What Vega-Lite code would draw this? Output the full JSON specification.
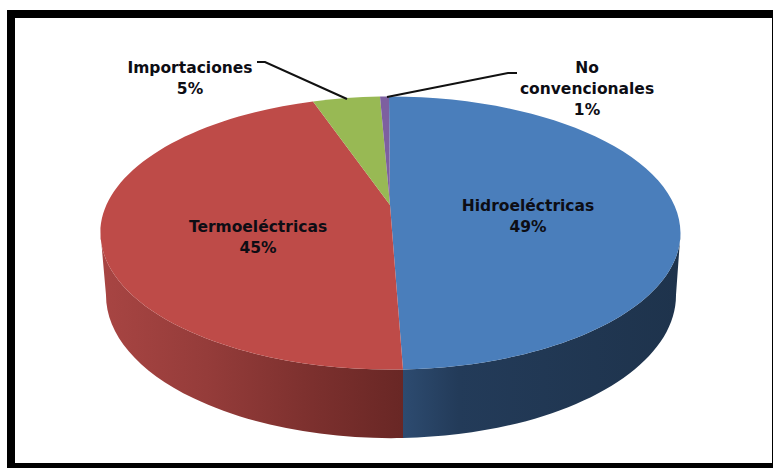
{
  "$schema": "https://vega.github.io/schema/vega-lite/v6.json",
  "width": 773,
  "height": 468,
  "padding": 0,
  "autosize": {"type": "none"},
  "background": "white",
  "config": {"view": {"stroke": null}},
  "data": {
    "values": [
      {"fuente": "Hidroeléctricas", "titulo": "Hidroeléctricas", "porcentaje": 49},
      {"fuente": "Termoeléctricas", "titulo": "Termoeléctricas", "porcentaje": 45},
      {"fuente": "Importaciones", "titulo": "Importaciones", "porcentaje": 5},
      {"fuente": "No convencionales", "titulo": "No\nconvencionales", "porcentaje": 1}
    ]
  },
  "layer": [
    {
      "transform": [{"filter": "datum.porcentaje === 45"}],
      "mark": {
        "type": "point",
        "filled": true,
        "opacity": 1,
        "size": 4,
        "strokeWidth": 0,
        "shape": "M-286,-1 A290,136.5 0 0 0 16.5,135.4 L16.5,204 A285,143 0 0 1 -280.5,61 Z",
        "fill": {
          "gradient": "linear", "x1": 0, "y1": 0, "x2": 1, "y2": 0,
          "stops": [
            {"offset": 0, "color": "#a84543"},
            {"offset": 0.35, "color": "#953c3a"},
            {"offset": 0.7, "color": "#7c302e"},
            {"offset": 1, "color": "#692725"}
          ]
        }
      }
    },
    {
      "transform": [{"filter": "datum.porcentaje === 49"}],
      "mark": {
        "type": "point",
        "filled": true,
        "opacity": 1,
        "size": 4,
        "strokeWidth": 0,
        "shape": "M16.5,135.4 A290,136.5 0 0 0 294,-1 L289.5,61 A285,143 0 0 1 16.5,204 Z",
        "fill": {
          "gradient": "linear", "x1": 0, "y1": 0, "x2": 1, "y2": 0,
          "stops": [
            {"offset": 0, "color": "#2d4b70"},
            {"offset": 0.2, "color": "#233b59"},
            {"offset": 1, "color": "#1e334c"}
          ]
        }
      }
    },
    {
      "mark": {"type": "point", "filled": true, "opacity": 1, "size": 4, "strokeWidth": 0},
      "encoding": {
        "shape": {
          "field": "fuente",
          "type": "nominal",
          "legend": null,
          "scale": {
            "domain": ["Hidroeléctricas", "Termoeléctricas", "Importaciones", "No convencionales"],
            "range": [
              "M3.5,-29 L2.5,-137.5 A290,136.5 0 0 1 294,-1 A290,136.5 0 0 1 16.5,135.4 Z",
              "M3.5,-29 L16.5,135.4 A290,136.5 0 0 1 -286,-1 A290,136.5 0 0 1 -73.5,-132.5 Z",
              "M3.5,-29 L-73.5,-132.5 A290,136.5 0 0 1 -6.5,-137.4 Z",
              "M3.5,-29 L-6.5,-137.4 A290,136.5 0 0 1 2.5,-137.5 Z"
            ]
          }
        },
        "color": {
          "field": "fuente",
          "type": "nominal",
          "legend": null,
          "scale": {
            "domain": ["Hidroeléctricas", "Termoeléctricas", "Importaciones", "No convencionales"],
            "range": ["#4a7ebb", "#be4b48", "#98b954", "#7d60a0"]
          }
        }
      }
    },
    {
      "transform": [{"filter": "datum.porcentaje === 5"}],
      "mark": {
        "type": "point",
        "filled": false,
        "opacity": 1,
        "size": 4,
        "stroke": "#111111",
        "strokeWidth": 2,
        "shape": "M-129.5,-172 L-121.5,-172 L-39.5,-135"
      }
    },
    {
      "transform": [{"filter": "datum.porcentaje === 1"}],
      "mark": {
        "type": "point",
        "filled": false,
        "opacity": 1,
        "size": 4,
        "stroke": "#111111",
        "strokeWidth": 2,
        "shape": "M130.5,-161 L121.5,-161 L0.5,-137"
      }
    },
    {
      "transform": [{"calculate": "datum.titulo + '\\n' + datum.porcentaje + '%'", "as": "rotulo"}],
      "mark": {
        "type": "text",
        "font": "DejaVu Sans",
        "fontWeight": "bold",
        "fontSize": 15.5,
        "lineHeight": 21,
        "lineBreak": "\n",
        "align": "center",
        "baseline": "middle",
        "color": "#0d0d14"
      },
      "encoding": {
        "text": {"field": "rotulo", "type": "nominal"},
        "x": {
          "field": "porcentaje",
          "type": "quantitative",
          "axis": null,
          "scale": {"domain": [1, 5, 45, 49], "range": [587, 190, 258, 528]}
        },
        "y": {
          "field": "porcentaje",
          "type": "quantitative",
          "axis": null,
          "scale": {"domain": [1, 5, 45, 49], "range": [68, 67.5, 226.5, 206]}
        }
      }
    },
    {
      "transform": [{"filter": "datum.porcentaje === 49"}],
      "mark": {
        "type": "point",
        "filled": false,
        "opacity": 1,
        "size": 4,
        "stroke": "#000000",
        "strokeWidth": 8,
        "shape": "M-375.5,-220 L389.5,-220 L389.5,233 L-375.5,233 Z"
      }
    }
  ],
  "resolve": {"scale": {"x": "independent", "y": "independent"}}
}
